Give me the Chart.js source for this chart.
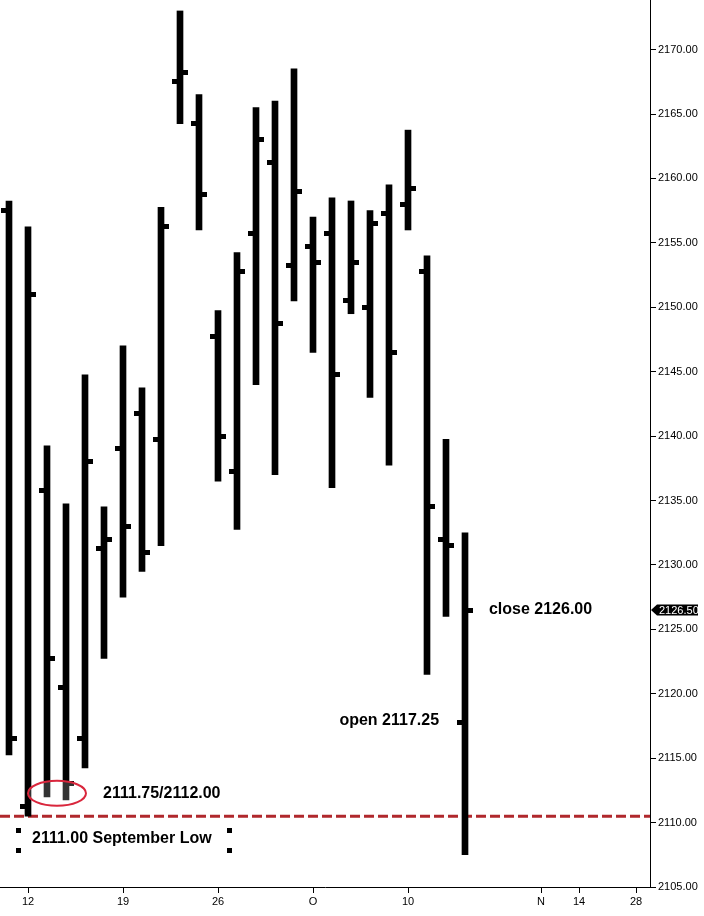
<!DOCTYPE html>
<html>
<head>
<meta charset="utf-8">
<script src="https://cdn.jsdelivr.net/npm/chart.js@4.4.1/dist/chart.umd.min.js"></script>
<style>
  html, body { margin: 0; padding: 0; background: #fff; }
  canvas { display: block; }
</style>
</head>
<body>
<canvas id="canvas" width="704" height="916"></canvas>
<script>
// daily bars, Sep 9 .. Oct 13
const days = ['Sep 9', 'Sep 12', 'Sep 13', 'Sep 14', 'Sep 15', 'Sep 16',
  'Sep 19', 'Sep 20', 'Sep 21', 'Sep 22', 'Sep 23',
  'Sep 26', 'Sep 27', 'Sep 28', 'Sep 29', 'Sep 30',
  'Oct 3', 'Oct 4', 'Oct 5', 'Oct 6', 'Oct 7',
  'Oct 10', 'Oct 11', 'Oct 12', 'Oct 13'];
const opens  = [2157.5, 2111.25, 2135.75, 2120.5, 2116.5, 2131.25,
  2139.0, 2141.75, 2139.75, 2167.5, 2164.25,
  2147.75, 2137.25, 2155.75, 2161.25, 2153.25,
  2154.75, 2155.75, 2150.5, 2150.0, 2157.25,
  2158.0, 2152.75, 2132.0, 2117.75];
const highs  = [2158.25, 2156.25, 2139.25, 2134.75, 2144.75, 2134.5,
  2147.0, 2143.75, 2157.75, 2173.0, 2166.5,
  2149.75, 2154.25, 2165.5, 2166.0, 2168.5,
  2157.0, 2158.5, 2158.25, 2157.5, 2159.5,
  2163.75, 2154.0, 2139.75, 2132.5];
const lows   = [2115.25, 2110.5, 2112.0, 2111.75, 2114.25, 2122.75,
  2127.5, 2129.5, 2131.5, 2164.25, 2156.0,
  2136.5, 2132.75, 2144.0, 2137.0, 2150.5,
  2146.5, 2136.0, 2149.5, 2143.0, 2137.75,
  2156.0, 2121.5, 2126.0, 2107.5];
const closes = [2116.5, 2151.0, 2122.75, 2113.0, 2138.0, 2132.0,
  2133.0, 2131.0, 2156.25, 2168.25, 2158.75,
  2140.0, 2152.75, 2163.0, 2148.75, 2159.0,
  2153.5, 2144.75, 2153.5, 2156.5, 2146.5,
  2159.25, 2134.5, 2131.5, 2126.5];

const dateTicks = [1, 6, 11, 16, 21, 28, 30, 33];
const dateTickLabels = ['12', '19', '26', 'O', '10', 'N', '14', '28'];
const priceTicks = [2105, 2110, 2115, 2120, 2125, 2130, 2135, 2140,
  2145, 2150, 2155, 2160, 2165, 2170];

const septLow = 2110.5;
const lastPrice = 2126.5;

const notes = [
  { text: '2111.75/2112.00', x: 4.95, y: 2112.27 },
  { text: '2111.00 September Low', x: 1.21, y: 2108.78 },
  { text: 'open 2117.25', x: 17.39, y: 2117.94 },
  { text: 'close 2126.00', x: 25.26, y: 2126.56 }
];

const FONT = '"Liberation Sans", Arial, sans-serif';

// open tick on the left, close tick on the right of every bar
const ohlcTicks = {
  id: 'ohlcTicks',
  afterDatasetsDraw(chart) {
    const { ctx, scales: { x, y } } = chart;
    ctx.save();
    ctx.fillStyle = '#000';
    days.forEach((d, i) => {
      const px = Math.round(x.getPixelForValue(i));
      const po = Math.round(y.getPixelForValue(opens[i]) - 2.5);
      const pc = Math.round(y.getPixelForValue(closes[i]) - 2.5);
      ctx.fillRect(px - 8, po, 5, 5);
      ctx.fillRect(px + 3, pc, 5, 5);
    });
    ctx.restore();
  }
};

const lowLine = {
  id: 'lowLine',
  beforeDatasetsDraw(chart) {
    const { ctx, chartArea, scales: { y } } = chart;
    const py = y.getPixelForValue(septLow);
    ctx.save();
    ctx.strokeStyle = '#b0282c';
    ctx.lineWidth = 3;
    ctx.setLineDash([10, 4]);
    ctx.beginPath();
    ctx.moveTo(chartArea.left, py);
    ctx.lineTo(chartArea.right, py);
    ctx.stroke();
    ctx.restore();
  }
};

const notesPlugin = {
  id: 'notes',
  afterDatasetsDraw(chart) {
    const { ctx, scales: { x, y } } = chart;
    ctx.save();

    // ellipse round the two lows
    const cx = x.getPixelForValue(2.526), cy = y.getPixelForValue(2112.27);
    const rx = x.getPixelForValue(2.526 + 1.526) - cx;
    const ry = y.getPixelForValue(2112.27) - y.getPixelForValue(2112.27 + 0.97);
    ctx.beginPath();
    ctx.ellipse(cx, cy, rx, ry, 0, 0, Math.PI * 2);
    ctx.fillStyle = 'rgba(255,255,255,0.2)';
    ctx.fill();
    ctx.strokeStyle = '#d9263c';
    ctx.lineWidth = 2;
    ctx.stroke();

    ctx.fillStyle = '#000';
    ctx.font = 'bold 16px ' + FONT;
    ctx.textBaseline = 'middle';
    ctx.textAlign = 'left';
    notes.forEach(n => {
      ctx.fillText(n.text, x.getPixelForValue(n.x), y.getPixelForValue(n.y));
    });

    // text box handles
    [[0.474, 2109.36], [0.474, 2107.85], [11.6, 2109.36], [11.6, 2107.85]].forEach(([hx, hy]) => {
      ctx.fillRect(Math.round(x.getPixelForValue(hx) - 2.5), Math.round(y.getPixelForValue(hy) - 2.5), 5, 5);
    });
    ctx.restore();
  },
  afterDraw(chart) {
    const { ctx, chartArea, scales: { y } } = chart;
    const py = Math.round(y.getPixelForValue(lastPrice));
    const left = chartArea.right + 1;
    ctx.save();
    ctx.fillStyle = '#000';
    ctx.beginPath();
    ctx.moveTo(left, py);
    ctx.lineTo(left + 6, py - 5.5);
    ctx.lineTo(chart.width - 6, py - 5.5);
    ctx.lineTo(chart.width - 6, py + 5.5);
    ctx.lineTo(left + 6, py + 5.5);
    ctx.closePath();
    ctx.fill();
    ctx.fillStyle = '#fff';
    ctx.font = '11px ' + FONT;
    ctx.textBaseline = 'middle';
    ctx.fillText(lastPrice.toFixed(2), left + 8, py + 0.5);
    ctx.restore();
  }
};

const ctx = document.getElementById('canvas');

new Chart(ctx, {
  type: 'bar',
  data: {
    datasets: [{
      label: 'range',
      data: days.map((d, i) => ({ x: i, y: [lows[i], highs[i]] })),
      backgroundColor: '#000',
      borderWidth: 0,
      barThickness: 6
    }]
  },
  options: {
    responsive: false,
    animation: false,
    layout: { padding: 0 },
    plugins: {
      legend: { display: false },
      tooltip: { enabled: false }
    },
    scales: {
      x: {
        type: 'linear',
        offset: false,
        min: -9 / 19,
        max: -9 / 19 + 650 / 19,
        afterBuildTicks: s => { s.ticks = dateTicks.map(v => ({ value: v })); },
        afterFit: s => { s.height = 29; s.paddingLeft = 0; s.paddingRight = 0; },
        border: { display: true, color: '#000', width: 1 },
        grid: { drawOnChartArea: false, drawTicks: true, tickLength: 6, color: '#000', offset: false },
        ticks: {
          padding: 2,
          autoSkip: false,
          maxRotation: 0,
          color: '#000',
          font: { family: FONT, size: 11 },
          callback: v => dateTickLabels[dateTicks.indexOf(v)]
        }
      },
      y: {
        position: 'right',
        min: 2105,
        max: 2105 + 887 / 12.883,
        afterBuildTicks: s => { s.ticks = priceTicks.map(v => ({ value: v })); },
        afterFit: s => { s.width = 54; s.paddingTop = 0; s.paddingBottom = 0; },
        border: { display: true, color: '#000', width: 1 },
        grid: { drawOnChartArea: false, drawTicks: true, tickLength: 6, color: '#000' },
        ticks: {
          padding: 2,
          color: '#000',
          font: { family: FONT, size: 11 },
          callback: v => v.toFixed(2)
        }
      }
    }
  },
  plugins: [lowLine, ohlcTicks, notesPlugin]
});
</script>
</body>
</html>
